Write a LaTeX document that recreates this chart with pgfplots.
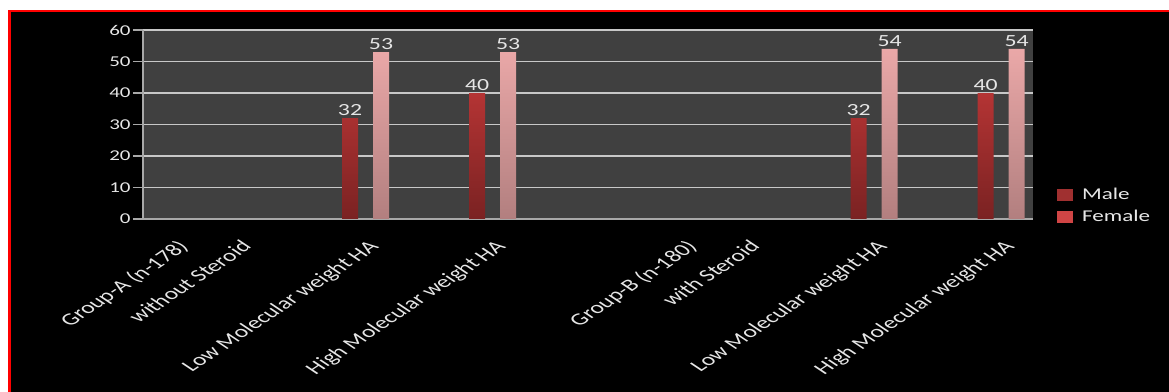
\documentclass[border=0pt]{standalone}
\usepackage{pgfplots}
\pgfplotsset{compat=1.18}
\usepackage{fontspec}
\setmainfont{Carlito}
\usepackage{graphicx}
\definecolor{plotbg}{HTML}{404040}
\definecolor{gridcol}{HTML}{C8C8C8}
\definecolor{axiscol}{HTML}{A8A8A8}
\definecolor{txtcol}{HTML}{E6E6E6}
\definecolor{maletop}{HTML}{B43434}
\definecolor{malebot}{HTML}{7A2222}
\definecolor{femtop}{HTML}{EAA8A8}
\definecolor{fembot}{HTML}{B27F7F}
\definecolor{legmale}{HTML}{A03030}
\definecolor{legfem}{HTML}{D04545}
\newcommand\sx[1]{\scalebox{1.4}[1]{#1}}
\newcommand\catlab[2]{%
  \begin{scope}[shift={(#1)}, xshift=1.5pt, yshift=-20pt, xscale=1.5, rotate=45]
    \node[transform shape, font=\fontsize{17}{20}\selectfont, text=txtcol, anchor=north east, inner sep=0pt] at (0,0) {#2};
  \end{scope}}
\begin{document}
\begin{tikzpicture}[x=1pt,y=1pt]
\useasboundingbox (0pt,0pt) rectangle (1169pt,391pt);
\fill[white] (0pt,0pt) rectangle (1169pt,391pt);
\fill[red] (8pt,-5pt) rectangle (1175pt,381pt);
\fill[black] (10.5pt,-5pt) rectangle (1175pt,378.5pt);
\begin{axis}[
  at={(143pt,172pt)}, anchor=south west,
  scale only axis, width=890pt, height=189pt,
  xmin=-0.5, xmax=13.5, ymin=0, ymax=60,
  axis background/.style={fill=plotbg},
  axis x line*=bottom, axis y line*=left,
  axis line style={draw=axiscol, line width=1.3pt},
  ytick={0,10,...,60}, yticklabels={0,10,20,30,40,50,60},
  ymajorgrids, grid style={draw=gridcol, line width=1.3pt},
  tick align=outside,
  major tick length=10pt, minor tick length=7pt,
  tick style={draw=axiscol, line width=1.3pt},
  xtick=\empty,
  minor xtick={-0.5,0.5,...,13.5},
  yticklabel style={font=\fontsize{15}{18}\selectfont, text=txtcol, xscale=1.4, anchor=east, inner sep=1.5pt},
  /pgf/number format/assume math mode=true,
  legend style={draw=none, fill=none, inner sep=0pt, outer sep=0pt,
    at={(axis description cs:1.026,0.172)}, anchor=north west,
    row sep=6pt, column sep=7pt, font=\fontsize{16.5}{19}\selectfont, text=txtcol,
    nodes={inner sep=1.5pt}},
  legend cell align=left,
  legend image code/.code={\fill[#1] (0pt,-6.5pt) rectangle (17pt,6.5pt);},
  clip=false,
]
\addlegendimage{fill=legmale}
\addlegendentry{\sx{Male}}
\addlegendimage{fill=legfem}
\addlegendentry{\sx{Female}}
\addplot[ybar, bar width=16pt, bar shift=-15.5pt, draw=none, top color=maletop, bottom color=malebot, forget plot,
  nodes near coords={\sx{\pgfmathprintnumber{\pgfplotspointmeta}}},
  every node near coord/.append style={font=\fontsize{17}{20}\selectfont, text=txtcol, anchor=south, inner sep=2.5pt, xshift=-15.5pt}]
  coordinates {(3,32) (5,40) (11,32) (13,40)};
\addplot[ybar, bar width=16pt, bar shift=15.5pt, draw=none, top color=femtop, bottom color=fembot, forget plot,
  nodes near coords={\sx{\pgfmathprintnumber{\pgfplotspointmeta}}},
  every node near coord/.append style={font=\fontsize{17}{20}\selectfont, text=txtcol, anchor=south, inner sep=2.5pt, xshift=15.5pt}]
  coordinates {(3,53) (5,53) (11,54) (13,54)};
\coordinate (c0) at (axis cs:0,0);
\coordinate (c1) at (axis cs:1,0);
\coordinate (c3) at (axis cs:3,0);
\coordinate (c5) at (axis cs:5,0);
\coordinate (c8) at (axis cs:8,0);
\coordinate (c9) at (axis cs:9,0);
\coordinate (c11) at (axis cs:11,0);
\coordinate (c13) at (axis cs:13,0);
\end{axis}
\catlab{c0}{Group-A (n-178)}
\catlab{c1}{without Steroid}
\catlab{c3}{Low Molecular weight HA}
\catlab{c5}{High Molecular weight HA}
\catlab{c8}{Group-B (n-180)}
\catlab{c9}{with Steroid}
\catlab{c11}{Low Molecular weight HA}
\catlab{c13}{High Molecular weight HA}
\end{tikzpicture}
\end{document}
